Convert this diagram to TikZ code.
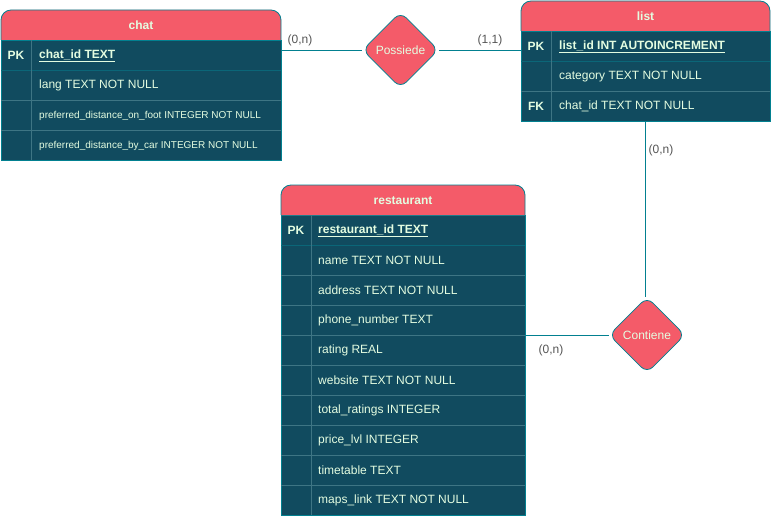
\documentclass[tikz,border=0pt]{standalone}
\usepackage{fontspec}
\setmainfont{Liberation Sans}
\usetikzlibrary{shapes.geometric}
\definecolor{hdr}{HTML}{F45B69}
\definecolor{bodyc}{HTML}{114B5F}
\definecolor{edge}{HTML}{028090}
\definecolor{txt}{HTML}{E4FDE1}
\definecolor{sep}{HTML}{3E7584}
\definecolor{pksep}{HTML}{0B6678}
\definecolor{lbl}{HTML}{555555}
\tikzset{
 hdrbox/.style={fill=hdr, draw=edge, line width=0.8pt, rounded corners=10pt},
 bodybox/.style={fill=bodyc, draw=edge, line width=0.8pt},
 rowline/.style={draw=sep, line width=0.7pt},
 pkline/.style={draw=pksep, line width=0.8pt},
 coltext/.style={anchor=west, text=txt, font=\fontsize{12}{14}\selectfont, inner sep=0pt},
 pktext/.style={anchor=west, text=txt, font=\fontsize{12}{14}\selectfont\bfseries, inner sep=0pt},
 smalltext/.style={anchor=west, text=txt, font=\fontsize{10}{12}\selectfont, inner sep=0pt},
 keytext/.style={text=txt, font=\fontsize{12}{14}\selectfont\bfseries, inner sep=0pt},
 titletext/.style={text=txt, font=\fontsize{12}{14}\selectfont\bfseries, inner sep=0pt},
 tablearea/.style={anchor=north west, inner sep=0pt, outer sep=0pt},
 rel/.style={diamond, aspect=1, fill=hdr, draw=edge, line width=0.8pt, rounded corners=8pt, minimum width=76pt, minimum height=76pt, inner sep=0pt, text=txt, font=\fontsize{12}{14}\selectfont},
 conn/.style={draw=edge, line width=0.8pt},
 card/.style={text=lbl, font=\fontsize{12}{14}\selectfont, inner sep=0pt}
}
\begin{document}
\begin{tikzpicture}[x=1pt,y=-1pt]
\useasboundingbox (0,0) rectangle (771,516);

% ---------- chat ----------
\node[tablearea, minimum width=280pt, minimum height=150pt] (chat) at (1,10) {};
\draw[bodybox] (1,40) rectangle (281,160);
\filldraw[hdrbox] (1,40) -- (1,10) -- (281,10) -- (281,40);
\draw[pkline] (1,70) -- (281,70);
\draw[rowline] (1,100) -- (281,100) (1,130) -- (281,130);
\draw[rowline] (31,40) -- (31,160);
\node[titletext] (chat-t) at (141,25) {chat};
\node[keytext] (chat-pk) at (16,55.5) {PK};
\node[pktext] (chat-r1) at (39,55.5) {\underline{chat\_id TEXT}};
\node[coltext] (chat-r2) at (39,85.5) {lang TEXT NOT NULL};
\node[smalltext] (chat-r3) at (39,115.5) {preferred\_distance\_on\_foot INTEGER NOT NULL};
\node[smalltext] (chat-r4) at (39,145.5) {preferred\_distance\_by\_car INTEGER NOT NULL};

% ---------- list ----------
\node[tablearea, minimum width=249pt, minimum height=120pt] (list) at (521,1) {};
\draw[bodybox] (521,31) rectangle (770,121);
\filldraw[hdrbox] (521,31) -- (521,1) -- (770,1) -- (770,31);
\draw[pkline] (521,61) -- (770,61);
\draw[rowline] (521,91) -- (770,91);
\draw[rowline] (551,31) -- (551,121);
\node[titletext] (list-t) at (645.5,16) {list};
\node[keytext] (list-pk) at (536,46.5) {PK};
\node[pktext] (list-r1) at (559,46.5) {\underline{list\_id INT AUTOINCREMENT}};
\node[coltext] (list-r2) at (559,76.5) {category TEXT NOT NULL};
\node[keytext] (list-fk) at (536,106.5) {FK};
\node[coltext] (list-r3) at (559,106.5) {chat\_id TEXT NOT NULL};

% ---------- restaurant ----------
\node[tablearea, minimum width=244pt, minimum height=330pt] (restaurant) at (281,185) {};
\draw[bodybox] (281,215) rectangle (525,515);
\filldraw[hdrbox] (281,215) -- (281,185) -- (525,185) -- (525,215);
\draw[pkline] (281,245) -- (525,245);
\foreach \yy in {275,305,...,485} {\draw[rowline] (281,\yy) -- (525,\yy);}
\draw[rowline] (311,215) -- (311,515);
\node[titletext] (rest-t) at (403,200.5) {restaurant};
\node[keytext] (rest-pk) at (296,230.5) {PK};
\node[pktext] (rest-r1) at (318,230.5) {\underline{restaurant\_id TEXT}};
\node[coltext] (rest-r2) at (318,260.5) {name TEXT NOT NULL};
\node[coltext] (rest-r3) at (318,290.5) {address TEXT NOT NULL};
\node[coltext] (rest-r4) at (318,320.5) {phone\_number TEXT};
\node[coltext] (rest-r5) at (318,350.5) {rating REAL};
\node[coltext] (rest-r6) at (318,380.5) {website TEXT NOT NULL};
\node[coltext] (rest-r7) at (318,410.5) {total\_ratings INTEGER};
\node[coltext] (rest-r8) at (318,440.5) {price\_lvl INTEGER};
\node[coltext] (rest-r9) at (318,470.5) {timetable TEXT};
\node[coltext] (rest-r10) at (318,500.5) {maps\_link TEXT NOT NULL};

% ---------- relationships ----------
\node[rel] (possiede) at (400.5,50) {Possiede};
\node[rel] (contiene) at (647,335) {Contiene};

\draw[conn] (chat.east |- possiede.west) -- (possiede.west);
\draw[conn] (possiede.east) -- (possiede.east -| list.west);
\draw[conn] (list.south) -- (list.south |- contiene.north);
\draw[conn] (contiene.west) -- (contiene.west -| restaurant.east);

% ---------- cardinalities ----------
\node[card] (c1) at (300,40) {(0,n)};
\node[card] (c2) at (490,40) {(1,1)};
\node[card] (c3) at (661,150) {(0,n)};
\node[card] (c4) at (551,350) {(0,n)};
\end{tikzpicture}
\end{document}
